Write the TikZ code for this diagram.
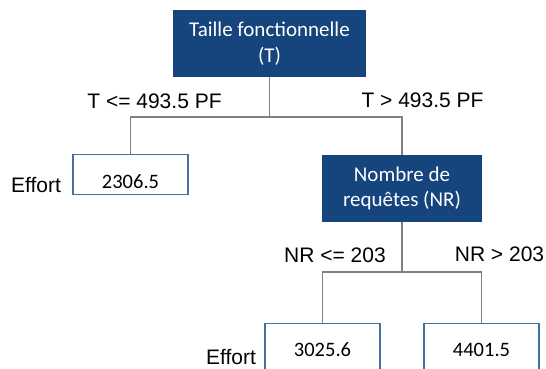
\documentclass[tikz,border=0pt]{standalone}
\usepackage{fontspec}
\setmainfont{Liberation Sans}
\newfontfamily\calibri{Carlito}
\definecolor{nodeblue}{RGB}{21,69,124}
\definecolor{leafblue}{RGB}{65,113,156}
\definecolor{branchgray}{RGB}{128,128,128}

\begin{document}
\begin{tikzpicture}[x=1pt,y=-1pt]
        \tikzset{split/.style={fill=nodeblue,text=white,inner sep=0pt,
            minimum width=193pt,minimum height=67pt,align=center,
            font=\calibri\fontsize{21}{25.5}\selectfont},
          leaf/.style={draw=leafblue,line width=1.2pt,anchor=north,inner sep=0pt,
            minimum width=115pt,minimum height=40pt,text height=27pt,text depth=0pt,
            font=\calibri\fontsize{20.5}{24}\selectfont},
          cutleaf/.style={leaf,minimum height=60pt,text height=13pt,text depth=8pt},
          cond/.style={font=\fontsize{21}{25}\selectfont},
          branch/.style={draw=branchgray,line width=1.5pt}}
        \useasboundingbox (0,0) rectangle (546,369);
        % decision nodes
        \node[split] (taille) at (269.5,43.5) {Taille fonctionnelle\\(T)};
        \node[split,minimum width=160pt] (nr) at (402,188.5) {Nombre de\\requêtes (NR)};
        % leaves
        \node[leaf] (e1) at (130.5,154) {2306.5};
        \node[cutleaf] (e2) at (322.5,323) {3025.6};
        \node[cutleaf] (e3) at (481.5,323) {4401.5};
        % branches
        \coordinate (j1) at (269.5,117);
        \coordinate (j2) at (402,272);
        \draw[branch] (taille.south) -- (j1);
        \draw[branch] (e1.north) |- (j1) -| (nr.north);
        \draw[branch] (nr.south) -- (j2);
        \draw[branch] (e2.north) |- (j2) -| (e3.north);
        % conditions
        \node[cond] (c1) at (154.5,101.5) {T <= 493.5 PF};
        \node[cond] (c2) at (422.5,100.5) {T > 493.5 PF};
        \node[cond] (c3) at (335,255) {NR <= 203};
        \node[cond] (c4) at (499.5,254) {NR > 203};
        \node[cond] (eff1) at (36,185.5) {Effort};
        \node[cond] (eff2) at (231,357) {Effort};
\end{tikzpicture}
\end{document}
